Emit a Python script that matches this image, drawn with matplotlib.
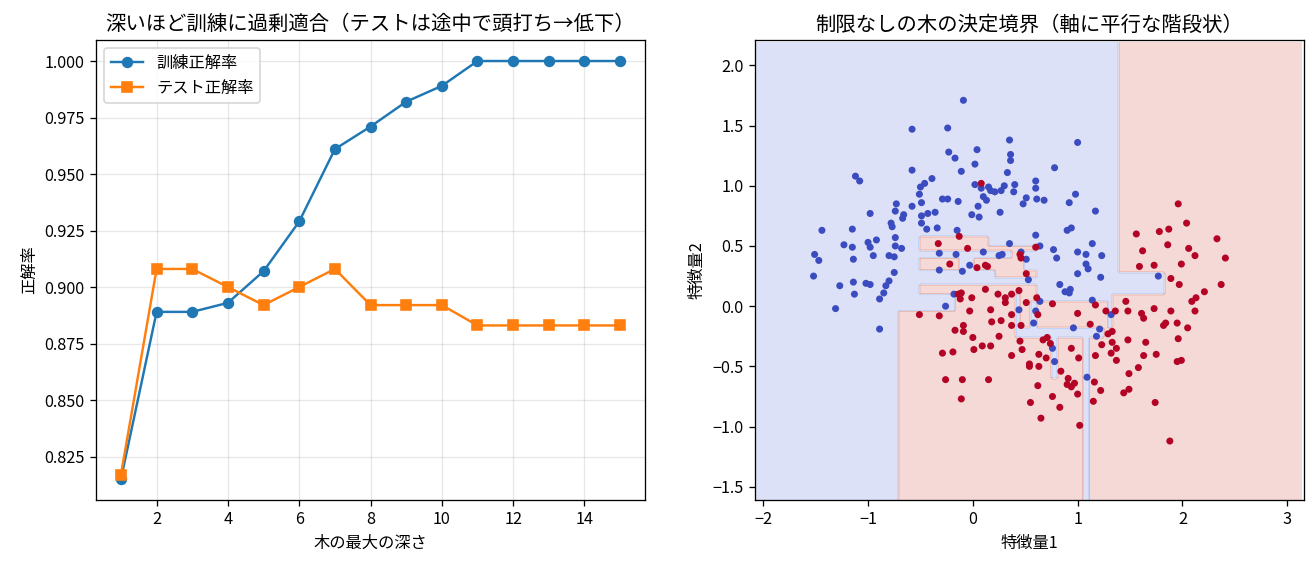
import numpy as np
import matplotlib
matplotlib.use("Agg")
import matplotlib.pyplot as plt

plt.rcParams['font.family'] = ['Noto Sans CJK JP', 'DejaVu Sans']

# left panel: accuracy vs max depth
depth = list(range(1, 16))
train_acc = [0.815, 0.889, 0.889, 0.893, 0.907, 0.929, 0.961, 0.971, 0.982, 0.989,
             1.0, 1.0, 1.0, 1.0, 1.0]
test_acc = [0.817, 0.908, 0.908, 0.900, 0.892, 0.900, 0.908, 0.892, 0.892, 0.892,
            0.883, 0.883, 0.883, 0.883, 0.883]

# right panel: training points
blue_f1 = [-0.58, -0.58, -1.12, -1.08, -0.73, -0.58, -0.98, -0.74, -0.66, -0.09,
           -0.24, 0.35, -0.23, -0.17, 0.04, 0.36, 0.36, 0.02, -0.11, 0.33,
           -0.39, -0.46, -0.50, 0.02, 0.08, 0.15, 0.17, 0.21, 0.27, 0.30,
           0.40, 0.39, -0.51, -0.29, -0.24, -0.14, -0.49, 0.10, 0.13, 0.05,
           -0.43, -0.36, -0.01, 0.26, 0.48, 1.00, 0.78, 0.60, 0.60, 0.51,
           0.61, 0.68, 0.98, 0.92, 1.17, -0.67, -0.78, -0.77, -1.44, -1.15,
           -0.74, -0.92, -1.00, -1.23, -1.15, -0.98, -0.74, -0.68, -1.51, -1.47,
           -1.14, -0.95, -0.80, -0.75, -0.75, -1.52, -0.80, -1.27, -1.14, -1.02,
           -0.98, -0.83, -0.85, -1.13, -0.89, -1.31, -0.89, -0.49, 0.06, -0.49,
           -0.44, -0.34, -0.15, 0.35, -0.32, -0.16, 0.10, 0.25, 0.28, 0.46,
           -0.03, -0.32, -0.10, -0.18, -0.26, 0.44, 0.90, 0.94, 0.60, 1.14,
           0.64, 0.77, 0.80, 1.00, 1.08, 1.23, 0.51, 1.08, 1.10, 1.00,
           1.22, 0.53, 0.83, 0.93, 0.88, 0.92, 0.64, 1.14, 1.32, 0.60,
           0.58, 0.96, 1.21, 1.77, 0.76, 0.78, 1.09, 1.18]
blue_f2 = [1.47, 1.13, 1.08, 1.04, 0.85, 0.83, 0.77, 0.79, 0.76, 1.71,
           1.48, 1.38, 1.28, 1.23, 1.30, 1.26, 1.21, 1.18, 1.12, 1.11,
           1.06, 1.02, 0.99, 1.01, 0.98, 0.99, 0.96, 0.95, 0.96, 1.00,
           1.01, 0.95, 0.93, 0.89, 0.89, 0.87, 0.86, 0.91, 0.88, 0.83,
           0.77, 0.78, 0.76, 0.78, 0.85, 1.36, 1.15, 1.04, 0.98, 0.90,
           0.89, 0.88, 0.93, 0.86, 0.79, 0.73, 0.69, 0.66, 0.63, 0.64,
           0.57, 0.55, 0.53, 0.51, 0.49, 0.49, 0.50, 0.48, 0.43, 0.38,
           0.39, 0.42, 0.42, 0.41, 0.28, 0.25, 0.21, 0.17, 0.20, 0.19,
           0.18, 0.17, 0.11, 0.10, 0.06, -0.02, -0.19, 0.75, 0.74, 0.69,
           0.64, 0.65, 0.63, 0.52, 0.44, 0.43, 0.45, 0.42, 0.43, 0.45,
           0.34, 0.30, 0.29, 0.10, 0.00, -0.03, 0.63, 0.65, 0.59, 0.52,
           0.50, 0.47, 0.40, 0.45, 0.43, 0.42, 0.39, 0.35, 0.31, 0.27,
           0.24, 0.22, 0.18, 0.14, 0.12, 0.11, 0.04, 0.05, -0.07, -0.04,
           -0.14, -0.18, -0.19, 0.25, -0.35, -0.46, -0.59, -0.25]

red_f1 = [0.08, 1.96, -0.13, -0.33, -0.05, 0.45, 0.46, -0.22, 0.12, 0.14,
          0.04, -0.14, -0.11, -0.12, -0.01, 0.12, 0.24, 0.31, 0.31, 0.37,
          0.44, -0.51, -0.32, -0.03, 0.17, 0.37, 0.27, 0.18, 0.37, -0.09,
          -0.17, -0.09, 0.46, 0.60, 0.51, 0.61, 0.51, 0.76, 1.17, 1.46,
          1.36, 1.27, 1.48, 0.62, 1.00, 1.12, 1.33, 1.29, 2.04, 1.56,
          1.78, 1.87, 2.33, 1.86, 2.06, 1.62, 2.12, 2.41, 1.99, 1.59,
          1.73, 1.89, 1.97, 2.37, 2.21, 2.13, 2.09, 1.61, 1.63, 1.73,
          1.89, 2.12, 1.84, 1.82, 1.95, 2.05, 0.00, 0.25, 0.45, -0.29,
          -0.19, 0.01, 0.09, 0.17, 0.37, 0.47, -0.26, -0.10, 0.15, -0.11,
          0.67, 0.71, 0.74, 0.63, 0.70, 0.54, 0.54, 0.63, 0.94, 1.01,
          0.84, 0.91, 0.90, 0.97, 0.94, 0.62, 1.00, 0.76, 0.55, 0.83,
          0.65, 1.02, 1.23, 1.33, 1.37, 1.48, 1.32, 1.37, 1.17, 1.16,
          1.22, 1.15, 1.44, 1.49, 1.49, 1.65, 1.96, 1.63, 1.75, 1.95,
          1.99, 1.58, 1.74, 1.88]
red_f2 = [1.02, 0.85, 0.58, 0.52, 0.48, 0.43, 0.40, 0.35, 0.34, 0.33,
          0.32, 0.10, 0.11, 0.06, 0.07, 0.14, 0.10, 0.07, 0.03, 0.10,
          0.13, -0.07, -0.08, -0.04, -0.03, -0.07, -0.12, -0.13, -0.16, -0.16,
          -0.20, -0.21, -0.16, 0.49, 0.27, 0.07, 0.03, 0.02, 0.01, 0.04,
          -0.04, -0.04, -0.04, -0.07, -0.06, -0.15, -0.21, -0.23, 0.69, 0.60,
          0.62, 0.64, 0.56, 0.51, 0.48, 0.46, 0.42, 0.40, 0.35, 0.33,
          0.34, 0.23, 0.18, 0.18, 0.12, 0.07, 0.04, -0.06, -0.10, -0.02,
          -0.04, -0.04, -0.14, -0.16, -0.14, -0.18, -0.26, -0.25, -0.29, -0.39,
          -0.38, -0.36, -0.33, -0.33, -0.41, -0.36, -0.61, -0.61, -0.61, -0.77,
          -0.28, -0.26, -0.31, -0.40, -0.43, -0.48, -0.50, -0.50, -0.35, -0.43,
          -0.54, -0.60, -0.65, -0.64, -0.67, -0.66, -0.73, -0.75, -0.80, -0.84,
          -0.93, -0.99, -0.32, -0.30, -0.35, -0.28, -0.39, -0.45, -0.41, -0.63,
          -0.70, -0.79, -0.72, -0.56, -0.69, -0.30, -0.27, -0.41, -0.40, -0.46,
          -0.45, -0.51, -0.80, -1.12]

X = np.column_stack([blue_f1 + red_f1, blue_f2 + red_f2])
labels = np.array([0] * len(blue_f1) + [1] * len(red_f1))


# fully grown CART tree (gini), like an unlimited DecisionTreeClassifier
# feature order alternates with depth, so equal splits are not always won by feature 1
def grow(idx, d=0):
    y = labels[idx]
    if y.min() == y.max():
        return ('leaf', y[0])
    best = None
    n = len(idx)
    for f in ((1, 0) if d % 2 == 0 else (0, 1)):
        order = idx[np.argsort(X[idx, f], kind='stable')]
        xs = X[order, f]
        ys = labels[order]
        c1 = np.cumsum(ys)
        nl = np.arange(1, n)
        l1 = c1[:-1]
        r1 = c1[-1] - l1
        nr = n - nl
        gl = 1 - (l1 / nl) ** 2 - ((nl - l1) / nl) ** 2
        gr = 1 - (r1 / nr) ** 2 - ((nr - r1) / nr) ** 2
        imp = (nl * gl + nr * gr) / n
        imp[xs[1:] <= xs[:-1]] = np.inf
        k = np.argmin(imp)
        if np.isfinite(imp[k]) and (best is None or imp[k] < best[0] - 1e-12):
            best = (imp[k], f, (xs[k] + xs[k + 1]) / 2)
    if best is None:
        return ('leaf', int(round(y.mean())))
    _, f, t = best
    m = X[idx, f] <= t
    return ('node', f, t, grow(idx[m], d + 1), grow(idx[~m], d + 1))


def predict(node, P):
    out = np.zeros(len(P), dtype=int)
    if node[0] == 'leaf':
        out[:] = node[1]
        return out
    _, f, t, left, right = node
    m = P[:, f] <= t
    out[m] = predict(left, P[m])
    out[~m] = predict(right, P[~m])
    return out


tree = grow(np.arange(len(labels)))

x_min, x_max = -2.08, 3.16
y_min, y_max = -1.61, 2.21
xx, yy = np.meshgrid(np.arange(x_min, x_max, 0.02), np.arange(y_min, y_max, 0.02))
Z = predict(tree, np.c_[xx.ravel(), yy.ravel()]).reshape(xx.shape)

fig = plt.figure(figsize=(1315 / 117, 565 / 117), dpi=117)
plt.subplots_adjust(left=0.073, right=0.9916, bottom=0.115, top=0.929, wspace=0.2)

#panel 1
plt.subplot(1, 2, 1)
plt.plot(depth, train_acc, marker='o', label='訓練正解率')
plt.plot(depth, test_acc, marker='s', label='テスト正解率')
plt.title('深いほど訓練に過剰適合（テストは途中で頭打ち→低下）', fontsize=12.5)
plt.xlabel('木の最大の深さ')
plt.ylabel('正解率')
plt.grid(True, alpha=0.3)
plt.legend(loc='upper left')

#panel 2
plt.subplot(1, 2, 2)
plt.contourf(xx, yy, Z, alpha=0.2, cmap='coolwarm')
plt.scatter(X[:, 0], X[:, 1], c=labels, cmap='coolwarm', s=11)
plt.title('制限なしの木の決定境界（軸に平行な階段状）', fontsize=12.5)
plt.xlabel('特徴量1')
plt.ylabel('特徴量2')
plt.xlim(x_min, x_max)
plt.ylim(y_min, y_max)

plt.savefig('out.png', dpi=117)
